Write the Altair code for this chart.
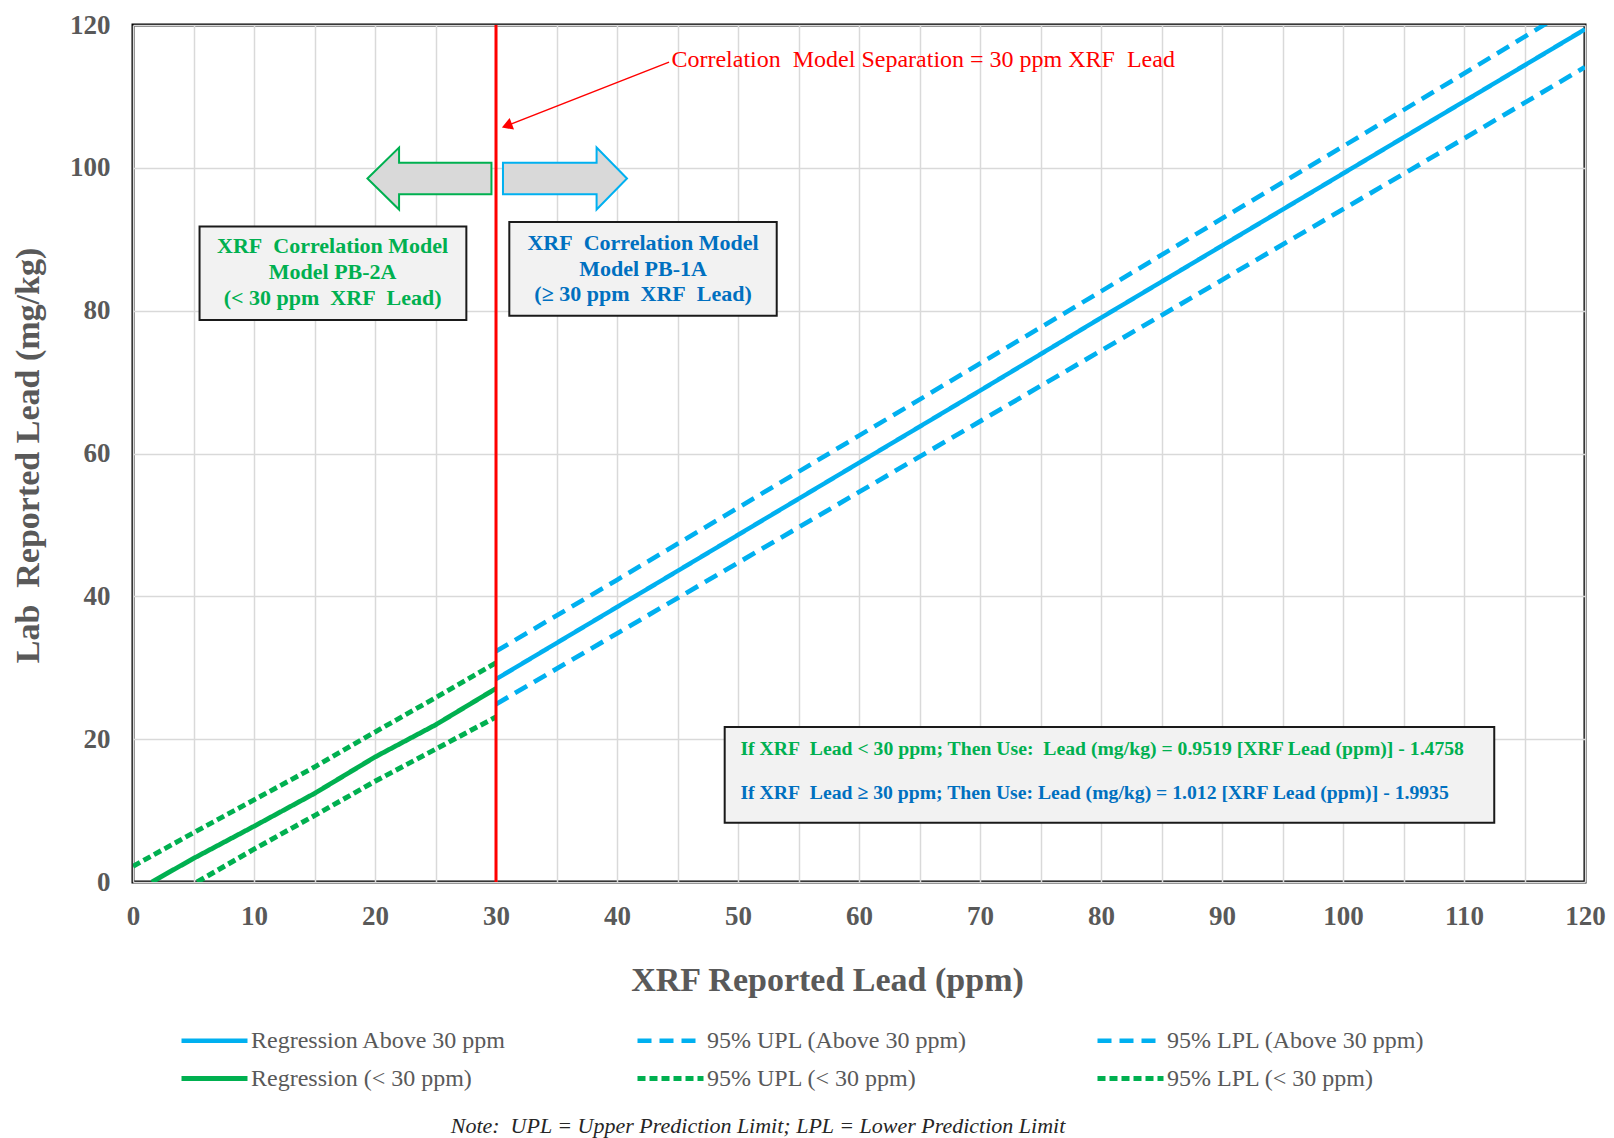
import altair as alt
import pandas as pd

FONT = "Liberation Serif"
GREY = "#595959"
NB = "\u00a0"

# ---------------- data ----------------
SERIES = ["Regression Above 30 ppm", "95% UPL (Above 30 ppm)", "95% LPL (Above 30 ppm)",
          "Regression (< 30 ppm)", "95% UPL (< 30 ppm)", "95% LPL (< 30 ppm)"]
COLORS = ["#00B0F0", "#00B0F0", "#00B0F0", "#00B050", "#00B050", "#00B050"]
DASHES = [[1, 0], [14, 8], [14, 8], [1, 0], [8, 4], [8, 4]]
WIDTHS = [4.5, 5, 5, 2.5, 2.5, 2.5]

x_above = [30, 40, 50, 60, 70, 80, 90, 100, 110, 120]
reg_above = [28.4, 38.5, 48.6, 58.7, 68.8, 79.0, 89.1, 99.2, 109.3, 119.4]
upl_above = [32.3, 42.3, 52.4, 62.5, 72.6, 82.7, 92.9, 103.0, 113.2, 123.5]
lpl_above = [24.9, 34.8, 44.7, 54.6, 64.5, 74.4, 84.3, 94.2, 104.1, 114.1]

x_reg_below = [1.55, 5, 10, 15, 20, 25, 30]
reg_below = [0.0, 3.3, 7.8, 12.4, 17.5, 22.0, 27.1]
x_upl_below = [0, 5, 10, 15, 20, 25, 30]
upl_below = [2.2, 6.9, 11.5, 16.1, 21.0, 25.8, 30.7]
x_lpl_below = [5.3, 10, 15, 20, 25, 30]
lpl_below = [0.0, 4.6, 9.3, 14.1, 18.6, 23.1]

X_TICKS = list(range(0, 121, 5))
Y_TICKS = list(range(0, 121, 20))

SEPARATION = 30

# annotation content
ANNOT_TEXT = ["Correlation" + NB + " Model Separation = 30 ppm XRF" + NB + " Lead"]
ANNOT_POS = [[44.5, 115.1]]
ANNOT_ARROW = [[44.3, 114.8, 30.9, 105.9]]

ARROW_POS = [[24.5, 98.5], [35.7, 98.5]]
ARROW_STROKES = ["#00B050", "#00B0F0"]
LEFT_ARROW = "M -1 0 L -0.49 -0.5 L -0.49 -0.255 L 1 -0.255 L 1 0.255 L -0.49 0.255 L -0.49 0.5 Z"
RIGHT_ARROW = "M 1 0 L 0.51 -0.5 L 0.51 -0.255 L -1 -0.255 L -1 0.255 L 0.51 0.255 L 0.51 0.5 Z"

BOXES = [[5.5, 27.55, 78.7, 91.8], [31.1, 53.2, 79.3, 92.4], [48.9, 112.5, 8.3, 21.7]]

BOX_TEXTS = ["XRF" + NB + " Correlation Model\nModel PB-2A\n(< 30 ppm" + NB + " XRF" + NB + " Lead)",
             "XRF" + NB + " Correlation Model\nModel PB-1A\n(\u2265 30 ppm" + NB + " XRF" + NB + " Lead)"]
BOX_TEXT_POS = [[16.5, 89.0], [42.15, 89.5]]
BOX_TEXT_COLORS = ["#00B050", "#0070C0"]

EQ_TEXTS = ["If XRF" + NB + " Lead < 30 ppm; Then Use:" + NB + " Lead (mg/kg) = 0.9519 [XRF Lead (ppm)] - 1.4758",
            "If XRF" + NB + " Lead \u2265 30 ppm; Then Use: Lead (mg/kg) = 1.012 [XRF Lead (ppm)] - 1.9935"]
EQ_POS = [[50.2, 18.6], [50.2, 12.4]]
EQ_COLORS = ["#00B050", "#0070C0"]

NOTE = "Note:" + NB + " UPL = Upper Prediction Limit; LPL = Lower Prediction Limit"

# ---------------- tables ----------------
rows = []
for name, xs, ys in [
    (SERIES[0], x_above, reg_above),
    (SERIES[1], x_above, upl_above),
    (SERIES[2], x_above, lpl_above),
    (SERIES[3], x_reg_below, reg_below),
    (SERIES[4], x_upl_below, upl_below),
    (SERIES[5], x_lpl_below, lpl_below),
]:
    for i, (a, b) in enumerate(zip(xs, ys)):
        rows.append({"series": name, "x": a, "y": b, "o": i})
lines_df = pd.DataFrame(rows)

x_scale = alt.Scale(domain=[0, 120], nice=False, zero=False)
y_scale = alt.Scale(domain=[0, 120], nice=False, zero=False)

x_axis = alt.Axis(values=X_TICKS, labelExpr="datum.value % 10 == 0 ? datum.label : ''",
                  title="XRF Reported Lead (ppm)", labelFlush=False, labelOverlap=False,
                  ticks=False, tickSize=0, domain=False, grid=True, gridColor="#d9d9d9",
                  gridWidth=1.5, labelPadding=34, labelBaseline="middle",
                  titleX=694, titleY=98, titleBaseline="middle", titleAlign="center")
y_axis = alt.Axis(values=Y_TICKS, title="Lab" + NB + " Reported Lead (mg/kg)", ticks=False, tickSize=0,
                  domain=False, grid=True, gridColor="#d9d9d9", gridWidth=1.5,
                  labelPadding=23, labelOverlap=False, labelFlush=False,
                  titleX=-105, titleY=430, titleBaseline="middle", titleAlign="center",
                  titleAngle=-90)

legend = alt.Legend(title=None, orient="none", legendX=68, legendY=1002, columns=3,
                    direction="horizontal",
                    symbolType="M-3,0H3", symbolSize=484, labelOffset=23,
                    columnPadding=120, rowPadding=12, padding=0,
                    labelFont=FONT, labelFontSize=24, labelColor=GREY, labelLimit=500)

lines = alt.Chart(lines_df).mark_line(clip=True).encode(
    x=alt.X("x:Q", scale=x_scale, axis=x_axis),
    y=alt.Y("y:Q", scale=y_scale, axis=y_axis),
    color=alt.Color("series:N", scale=alt.Scale(domain=SERIES, range=COLORS), legend=legend),
    strokeDash=alt.StrokeDash("series:N", scale=alt.Scale(domain=SERIES, range=DASHES), legend=legend),
    strokeWidth=alt.StrokeWidth("series:N", scale=alt.Scale(domain=SERIES, range=WIDTHS), legend=legend),
    order="o:Q",
)

sep_rule = alt.Chart(pd.DataFrame({"x": [SEPARATION]})).mark_rule(
    color="#FF0000", strokeWidth=3).encode(x="x:Q")

arrow_df = pd.DataFrame([{"x": a[0], "y": a[1], "x2": a[2], "y2": a[3]} for a in ANNOT_ARROW])
annot_line = alt.Chart(arrow_df).mark_rule(color="#FF0000", strokeWidth=1.5).encode(
    x="x:Q", y="y:Q", x2="x2:Q", y2="y2:Q")
annot_head = alt.Chart(arrow_df).mark_point(
    shape="triangle-up", angle=249, size=150, filled=True, color="#FF0000", opacity=1).encode(
    x="x2:Q", y="y2:Q")

annot_text = alt.Chart(pd.DataFrame({"t": ANNOT_TEXT, "x": [p[0] for p in ANNOT_POS],
                                     "y": [p[1] for p in ANNOT_POS]})).mark_text(
    align="left", baseline="middle", font=FONT, fontSize=24, color="#FF0000").encode(
    x="x:Q", y="y:Q", text="t:N")

block_left = alt.Chart(pd.DataFrame({"x": [ARROW_POS[0][0]], "y": [ARROW_POS[0][1]]})).mark_point(
    shape=LEFT_ARROW, size=15376, filled=True, fill="#d9d9d9", stroke=ARROW_STROKES[0],
    strokeWidth=2, opacity=1, fillOpacity=1).encode(x="x:Q", y="y:Q")
block_right = alt.Chart(pd.DataFrame({"x": [ARROW_POS[1][0]], "y": [ARROW_POS[1][1]]})).mark_point(
    shape=RIGHT_ARROW, size=15376, filled=True, fill="#d9d9d9", stroke=ARROW_STROKES[1],
    strokeWidth=2, opacity=1, fillOpacity=1).encode(x="x:Q", y="y:Q")

boxes_df = pd.DataFrame([{"x": b[0], "x2": b[1], "y": b[2], "y2": b[3]} for b in BOXES])
boxes = alt.Chart(boxes_df).mark_rect(fill="#f2f2f2", stroke="#1a1a1a", strokeWidth=2).encode(
    x="x:Q", x2="x2:Q", y="y:Q", y2="y2:Q")

box_text_df = pd.DataFrame({"t": BOX_TEXTS, "x": [p[0] for p in BOX_TEXT_POS],
                            "y": [p[1] for p in BOX_TEXT_POS], "c": BOX_TEXT_COLORS})
box_text = alt.Chart(box_text_df).mark_text(
    align="center", baseline="middle", font=FONT, fontSize=22, fontWeight="bold",
    lineBreak="\n", lineHeight=25.7).encode(
    x="x:Q", y="y:Q", text="t:N", color=alt.Color("c:N", scale=None))

eq_df = pd.DataFrame({"t": EQ_TEXTS, "x": [p[0] for p in EQ_POS], "y": [p[1] for p in EQ_POS],
                      "c": EQ_COLORS})
eq_text = alt.Chart(eq_df).mark_text(
    align="left", baseline="middle", font=FONT, fontSize=19.7, fontWeight="bold").encode(
    x="x:Q", y="y:Q", text="t:N", color=alt.Color("c:N", scale=None))

note = alt.Chart(pd.DataFrame({"t": [NOTE]})).mark_text(
    align="center", baseline="middle", font=FONT, fontSize=22, fontStyle="italic",
    color="#262626").encode(x=alt.value(625), y=alt.value(1101), text="t:N")

chart = alt.layer(
    lines, boxes, block_left, block_right, box_text, eq_text, sep_rule,
    annot_line, annot_head, annot_text, note
).properties(
    width=1452, height=857,
    padding={"left": 133, "top": 25, "right": 29, "bottom": 256},
    autosize=alt.AutoSizeParams(type="none"),
    background="white",
).configure_view(
    stroke="#000000", strokeWidth=3
).configure_axis(
    labelFont=FONT, labelFontSize=27, labelFontWeight="bold", labelColor=GREY,
    titleFont=FONT, titleFontSize=34, titleFontWeight="bold", titleColor=GREY,
)

chart.save("out.html", embed_options={"renderer": "svg", "actions": False})
